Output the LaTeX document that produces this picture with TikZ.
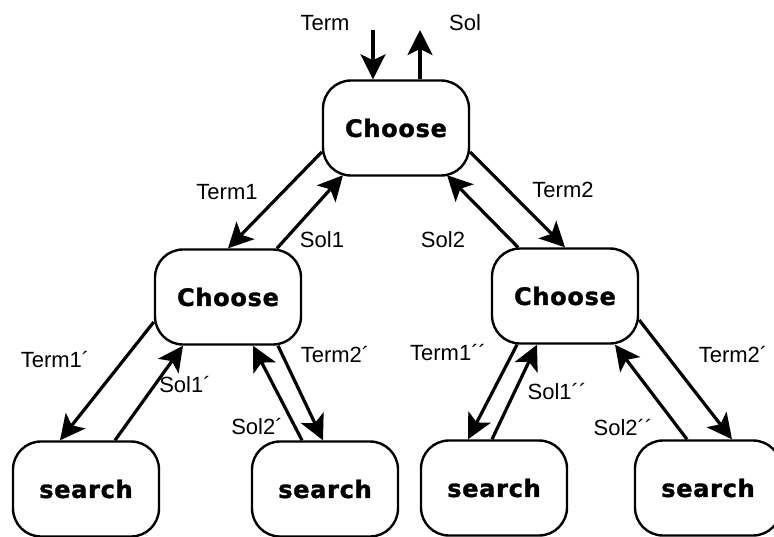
\documentclass[tikz,border=0pt]{standalone}
\usepackage{fontspec}
\setmainfont{Liberation Sans}
\newfontfamily\boxfont[LetterSpace=3,FakeBold=1.4]{DejaVu Sans Bold}
\usetikzlibrary{arrows.meta}
\begin{document}
\begin{tikzpicture}[x=1pt,y=-1pt,
  proc/.style={draw, line width=2.4pt, rounded corners=28pt,
    minimum width=146pt, minimum height=95pt, inner sep=0pt,
    font={\boxfont\fontsize{24}{29}\selectfont}},
  flow/.style={line width=3.2pt, -{Stealth[length=25pt,width=25pt,inset=6pt]}},
  lbl/.style={font={\fontsize{22}{26}\selectfont}, inner sep=0pt}]
\clip (0,0) rectangle (774,536);

% processes
\node[proc] (T)  at (396,128) {Choose};
\node[proc] (L)  at (228,297) {Choose};
\node[proc] (R)  at (565,296) {Choose};
\node[proc] (B1) at (86,489)  {search};
\node[proc] (B2) at (325,489) {search};
\node[proc] (B3) at (494,488) {search};
\node[proc] (B4) at (708,488) {search};

% outside world
\coordinate (tin)  at (373,30);
\coordinate (sout) at (420,30);
\draw[flow] (tin) -- ([xshift=-23pt]T.north);
\draw[flow] ([xshift=24pt]T.north) -- (sout);

% first level
\draw[flow] ([yshift=-24pt]T.west) -- (L.north);
\draw[flow] ([xshift=49pt]L.north) -- ([xshift=-53pt,yshift=1.5pt]T.south);
\draw[flow] ([yshift=-24pt]T.east) -- (R.north);
\draw[flow] ([xshift=-47pt]R.north) -- ([xshift=51pt,yshift=1.5pt]T.south);

% second level, left
\draw[flow] ([yshift=-25pt]L.west) -- ([xshift=-26pt]B1.north);
\draw[flow] ([xshift=29pt]B1.north) -- ([xshift=-45pt]L.south);
\draw[flow] ([xshift=50pt]L.south) -- ([xshift=-2pt]B2.north);
\draw[flow] ([xshift=-23pt]B2.north) -- ([xshift=25pt]L.south);

% second level, right
\draw[flow] ([xshift=-48pt]R.south) -- ([xshift=-26pt]B3.north);
\draw[flow] ([xshift=-2pt]B3.north) -- ([xshift=-28pt]R.south);
\draw[flow] ([xshift=-21pt]B4.north) -- ([xshift=50pt]R.south);
\draw[flow] ([yshift=-24pt]R.east) -- ([xshift=24pt]B4.north);

% labels
\node[lbl] (lt)   at (325,23)  {Term};
\node[lbl] (ls)   at (465,23)  {Sol};
\node[lbl] (lt1)  at (227,192) {Term1};
\node[lbl] (ls1)  at (322,240) {Sol1};
\node[lbl] (lt2)  at (563,190) {Term2};
\node[lbl] (ls2)  at (443,240) {Sol2};
\node[lbl] (lt1a) at (55,360)  {Term1´};
\node[lbl] (lt2a) at (335,355) {Term2´};
\node[lbl] (ls1a) at (185,385) {Sol1´};
\node[lbl] (ls2a) at (257,427) {Sol2´};
\node[lbl] (lt1b) at (448,353) {Term1´´};
\node[lbl] (lt2b) at (733,355) {Term2´};
\node[lbl] (ls1b) at (557,392) {Sol1´´};
\node[lbl] (ls2b) at (623,428) {Sol2´´};
\end{tikzpicture}
\end{document}
